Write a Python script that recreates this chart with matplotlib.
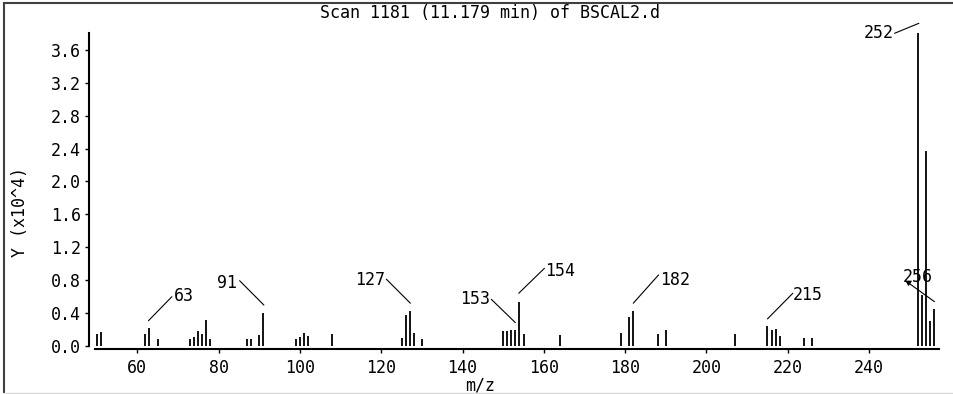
import numpy as np
import matplotlib
matplotlib.use("Agg")
import matplotlib.pyplot as plt
from matplotlib.lines import Line2D
from matplotlib.transforms import offset_copy

# ---- Data ----
mz = [50, 51, 62, 63, 65, 73, 74, 75, 76, 77, 78, 87, 88, 90, 91,
      99, 100, 101, 102, 108, 125, 126, 127, 128, 130,
      150, 151, 152, 153, 154, 155, 164, 179, 181, 182, 188, 190,
      207, 215, 216, 217, 218, 224, 226, 252, 253, 254, 255, 256]
abund = [0.14, 0.17, 0.15, 0.215, 0.09, 0.09, 0.11, 0.18, 0.14, 0.32, 0.08,
         0.09, 0.09, 0.13, 0.40,
         0.09, 0.11, 0.16, 0.12, 0.14, 0.10, 0.38, 0.43, 0.16, 0.09,
         0.18, 0.18, 0.19, 0.19, 0.54, 0.14, 0.13, 0.16, 0.35, 0.43, 0.14, 0.19,
         0.14, 0.24, 0.19, 0.21, 0.12, 0.10, 0.10, 3.80, 0.62, 2.37, 0.30, 0.45]

labelled = [63, 91, 127, 153, 154, 182, 215, 252, 256]
title = "Scan 1181 (11.179 min) of BSCAL2.d"
xlabel = "m/z"
ylabel = "Y (x10^4)"
xticks = list(range(60, 241, 20))
yticks = np.arange(0, 3.7, 0.4)

# label leader placement (pixels from peak top): line start, line end, text, align
label_layout = {
    63:  ((-1, 7.6), (22.4, 31.6), (24, 32), "left"),
    91:  ((0.6, 8), (-23.7, 32.4), (-26, 30), "right"),
    127: ((0.7, 7.4), (-23.3, 31.4), (-25, 30.7), "right"),
    153: ((0, 7.7), (-24, 31), (-25, 31), "right"),
    154: ((-0.7, 8.3), (25, 33.3), (26, 31), "left"),
    182: ((0, 7.4), (25.3, 35.7), (27, 30.7), "left"),
    215: ((0, 7.3), (25.4, 33), (25, 31.3), "left"),
    252: ((1, 10), (-23.3, 0), (-24, 0), "right"),
    256: ((0.3, 7.3), (-28.7, 28.3), (-31.4, 32), "left"),
}

plt.rcParams['font.family'] = ['DejaVu Sans Mono']
FS = 12
W, H = 954, 394

fig = plt.figure(figsize=(W / 100, H / 100), dpi=100)
ax = fig.add_axes([95 / W, 48 / H, 844 / W, (346 - 33.3) / H])

ax.vlines(mz, 0, abund, color='black', lw=1.3)
ax.set_xlim(49.6, 257.2)
ax.set_ylim(0, max(abund))

for s in ['top', 'right']:
    ax.spines[s].set_visible(False)
ax.spines['left'].set_position(('outward', 4.3))
ax.spines['bottom'].set_position(('outward', 2.5))
for s in ['left', 'bottom']:
    ax.spines[s].set_linewidth(1.5)

ax.set_xticks(xticks)
ax.set_yticks(yticks)
ax.set_yticklabels([f"{v:.1f}" for v in yticks])
ax.tick_params(direction='out', length=3, width=1, labelsize=FS)
ax.tick_params(axis='x', pad=4)
ax.tick_params(axis='y', pad=3)

# peak labels with leader lines
for m in labelled:
    h = abund[mz.index(m)]
    (sx, sy), (ex, ey), (tx, ty), ha = label_layout[m]
    start_tr = offset_copy(ax.transData, fig=fig, x=sx, y=sy, units='dots')
    style = '<|-' if m == 256 else '-'
    ax.annotate('', xy=(m, h), xycoords=start_tr,
                xytext=(ex - sx, ey - sy), textcoords='offset pixels',
                arrowprops=dict(arrowstyle=style, lw=0.8, color='black',
                                shrinkA=0, shrinkB=0, mutation_scale=7),
                annotation_clip=False)
    ax.annotate(str(m), xy=(m, h), xytext=(tx, ty), textcoords='offset pixels',
                ha=ha, va='center', fontsize=FS, annotation_clip=False)

fig.text(490 / W, 1 - 13 / H, title, ha='center', va='center', fontsize=FS)
fig.text(480 / W, 1 - 386 / H, xlabel, ha='center', va='center', fontsize=FS)
fig.text(20 / W, 1 - 212 / H, ylabel, ha='center', va='center',
         rotation=90, fontsize=FS)

# window frame
fig.add_artist(Line2D([4 / W, 4 / W], [2 / H, 1 - 3 / H], color='#404040', lw=1.5))
fig.add_artist(Line2D([4 / W, 1], [1 - 3 / H, 1 - 3 / H], color='#404040', lw=1.5))
fig.add_artist(Line2D([4 / W, 1], [1.5 / H, 1.5 / H], color='#d8d8d8', lw=1))

fig.savefig("out.png", dpi=100)
